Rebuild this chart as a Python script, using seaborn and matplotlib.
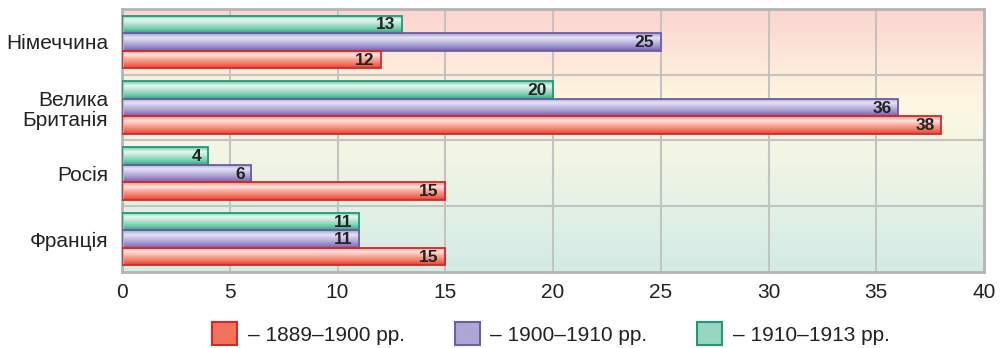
import numpy as np
import pandas as pd
import matplotlib.pyplot as plt
import seaborn as sns
from matplotlib.colors import LinearSegmentedColormap
from matplotlib.patches import Patch

sns.set_style("white")
plt.rcParams['font.family'] = ['Liberation Sans', 'DejaVu Sans']

# дані
countries = ["Німеччина", "Велика\nБританія", "Росія", "Франція"]
periods = ["1889–1900 рр.", "1900–1910 рр.", "1910–1913 рр."]
v_1889_1900 = [12, 38, 15, 15]
v_1900_1910 = [25, 36, 6, 11]
v_1910_1913 = [13, 20, 4, 11]

df = pd.DataFrame({
    "country": countries * 3,
    "period": [periods[0]] * 4 + [periods[1]] * 4 + [periods[2]] * 4,
    "value": v_1889_1900 + v_1900_1910 + v_1910_1913,
})

# кольори: (край, градієнт зверху вниз, легенда)
styles = {
    periods[0]: ("#d8262a", ["#f3907e", "#fde6de", "#f8aa9a", "#f27a68", "#e4442f"], "#f3735a"),
    periods[1]: ("#6a5ea4", ["#a49bd0", "#e6e2f5", "#c2bbe2", "#9d92cc", "#7062aa"], "#aea7d6"),
    periods[2]: ("#1f9a78", ["#6cc7a8", "#e6f7f0", "#b4e3d0", "#76ceb0", "#2ea482"], "#97d6bf"),
}
hue_order = [periods[2], periods[1], periods[0]]

fig = plt.figure(figsize=(10.02, 3.48), dpi=100)
ax = fig.add_axes([0.1218, 0.2184, 0.8603, 0.7558])

# фон з градієнтом
bg = LinearSegmentedColormap.from_list(
    "bg", [(0, "#fbd4cf"), (0.35, "#fff7e2"), (0.6, "#eff5e5"), (1, "#d2ebe6")])
ax.imshow(np.linspace(0, 1, 256).reshape(-1, 1), cmap=bg, aspect="auto",
          extent=(0, 1, 0, 1), origin="upper", transform=ax.transAxes, zorder=0)

sns.barplot(data=df, y="country", x="value", hue="period", hue_order=hue_order,
            order=countries, orient="h", ax=ax, legend=False, zorder=3)

grad = np.linspace(0, 1, 64).reshape(-1, 1)
for cont, per in zip(ax.containers, hue_order):
    edge, cols, _ = styles[per]
    cmap = LinearSegmentedColormap.from_list(per, cols)
    for p in cont:
        p.set_facecolor("none")
        p.set_edgecolor(edge)
        p.set_linewidth(1.3)
        x0, y0, w, h = p.get_x(), p.get_y(), p.get_width(), p.get_height()
        im = ax.imshow(grad, cmap=cmap, aspect="auto", origin="upper",
                       extent=(x0, x0 + w, y0 + h, y0), zorder=2.5)
        im.set_clip_path(p)
        ax.text(x0 + w - 0.3, y0 + h / 2 + 0.01, f"{w:g}", ha="right", va="center",
                fontsize=12.5, fontweight="bold", color="#222222", zorder=4)

ax.set_xlim(0, 40)
ax.set_ylim(3.5, -0.5)
ax.set_xticks(range(0, 45, 5))
ax.set_xlabel("")
ax.set_ylabel("")
for x in range(5, 40, 5):
    ax.axvline(x, color="#c3c3c3", lw=1.5, zorder=1)
for y in [0.5, 1.5, 2.5]:
    ax.axhline(y, color="#c3c3c3", lw=1.5, zorder=1)
for s in ax.spines.values():
    s.set_color("#b4b4b4")
    s.set_linewidth(2)
ax.tick_params(axis="both", length=0, labelsize=15, colors="#222222")
ax.tick_params(axis="x", pad=8)
ax.tick_params(axis="y", pad=10)
for t in ax.get_yticklabels():
    t.set_linespacing(1.1)

handles = [Patch(facecolor=styles[p][2], edgecolor=styles[p][0], lw=1.5) for p in periods]
fig.legend(handles, ["– " + p for p in periods], loc="lower center",
           bbox_to_anchor=(0.55, -0.045), ncol=3, frameon=False, fontsize=15,
           handlelength=1.2, handleheight=1.3, handletextpad=0.5, columnspacing=2.4,
           labelcolor="#222222")

fig.savefig("out.png", dpi=100)
